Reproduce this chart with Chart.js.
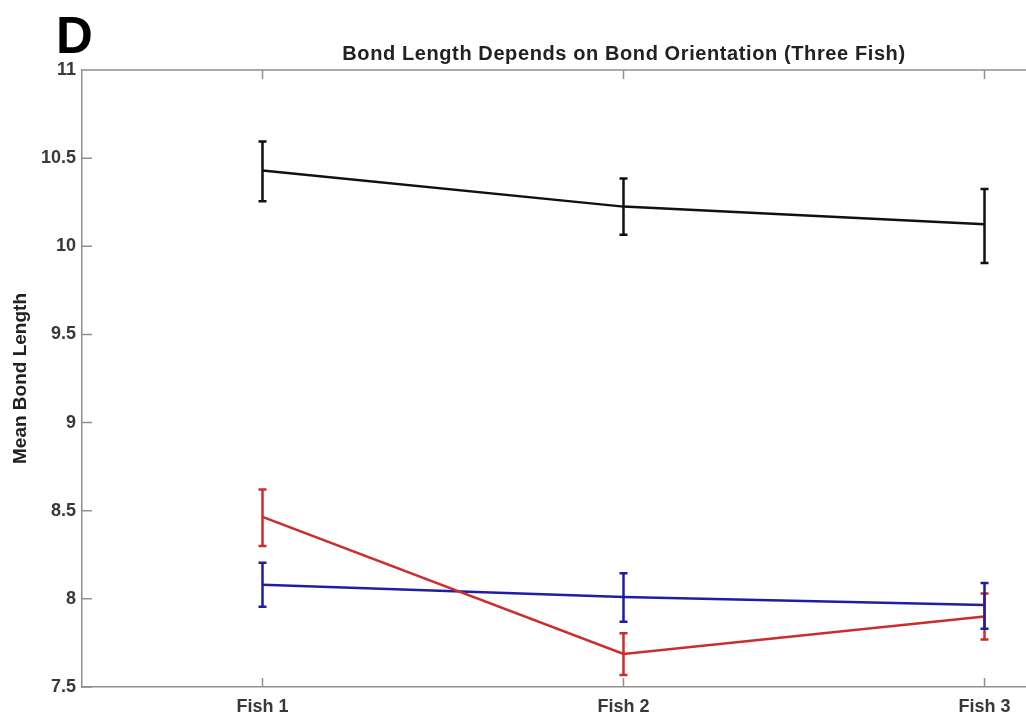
<!DOCTYPE html>
<html>
<head>
<meta charset="utf-8">
<script src="https://cdn.jsdelivr.net/npm/chart.js@4"></script>
<style>
  html, body { margin: 0; padding: 0; background: #fff; overflow: hidden; }
  #wrap { position: relative; width: 1026px; height: 721px; overflow: hidden; }
  #panel { position: absolute; left: 56px; top: 6px; font: bold 51px "Liberation Sans", Arial, sans-serif; color: #000; }
  #title { position: absolute; left: 314px; width: 620px; top: 42px; line-height: 24px; text-align: center;
           font: bold 20px "Liberation Sans", Arial, sans-serif; letter-spacing: 0.6px; color: #222; white-space: nowrap; }
</style>
</head>
<body>
<div id="wrap">
  <canvas id="myChart" width="1246" height="721"></canvas>
  <div id="panel">D</div>
  <div id="title">Bond Length Depends on Bond Orientation (Three Fish)</div>
</div>
<script>
// values
const fish = ['Fish 1', 'Fish 2', 'Fish 3'];

const blackMean = [10.43, 10.225, 10.125];
const blackLow  = [10.255, 10.065, 9.905];
const blackHigh = [10.595, 10.385, 10.325];

const redMean = [8.465, 7.687, 7.9];
const redLow  = [8.3, 7.568, 7.77];
const redHigh = [8.62, 7.805, 8.03];

const blueMean = [8.08, 8.01, 7.965];
const blueLow  = [7.955, 7.87, 7.83];
const blueHigh = [8.205, 8.145, 8.09];

const yTicks = [7.5, 8, 8.5, 9, 9.5, 10, 10.5, 11];

const axisGrey = '#909090';
const font = "'Liberation Sans', Arial, sans-serif";

// error bars with short caps
const errorBars = {
    id: 'errorBars',
    afterDatasetsDraw(chart) {
        const ctx = chart.ctx;
        const x = chart.scales.x, y = chart.scales.y;
        chart.data.datasets.forEach(ds => {
            ctx.save();
            ctx.strokeStyle = ds.borderColor;
            ctx.lineWidth = 2.5;
            ds.data.forEach((v, i) => {
                const px = x.getPixelForValue(i);
                const lo = y.getPixelForValue(ds.low[i]);
                const hi = y.getPixelForValue(ds.high[i]);
                ctx.beginPath();
                ctx.moveTo(px, lo); ctx.lineTo(px, hi);
                ctx.moveTo(px - 4, lo); ctx.lineTo(px + 4, lo);
                ctx.moveTo(px - 4, hi); ctx.lineTo(px + 4, hi);
                ctx.stroke();
            });
            ctx.restore();
        });
    }
};

// box top line and inward ticks, MATLAB style
const boxTicks = {
    id: 'boxTicks',
    afterDraw(chart) {
        const ctx = chart.ctx;
        const a = chart.chartArea;
        const x = chart.scales.x, y = chart.scales.y;
        ctx.save();
        ctx.strokeStyle = axisGrey;
        ctx.lineWidth = 1.5;
        ctx.beginPath();
        ctx.moveTo(a.left, a.top); ctx.lineTo(a.right, a.top);
        fish.forEach((f, i) => {
            const px = x.getPixelForValue(i);
            ctx.moveTo(px, a.bottom); ctx.lineTo(px, a.bottom - 9);
            ctx.moveTo(px, a.top); ctx.lineTo(px, a.top + 9);
        });
        yTicks.forEach(t => {
            const py = y.getPixelForValue(t);
            ctx.moveTo(a.left, py); ctx.lineTo(a.left + 10, py);
        });
        ctx.stroke();
        ctx.restore();
    }
};

const data = {
    labels: fish,
    datasets: [{
        label: 'black',
        data: blackMean, low: blackLow, high: blackHigh,
        borderColor: '#111111',
    }, {
        label: 'red',
        data: redMean, low: redLow, high: redHigh,
        borderColor: '#cc2c2c',
    }, {
        label: 'blue',
        data: blueMean, low: blueLow, high: blueHigh,
        borderColor: '#1e1ea2',
    }].map(d => Object.assign(d, { borderWidth: 2.5, pointRadius: 0, fill: false, tension: 0 }))
};

const config = {
    type: 'line',
    data: data,
    plugins: [errorBars, boxTicks],
    options: {
        responsive: false,
        animation: false,
        layout: { padding: { left: 0, right: 81, top: 70, bottom: 0 } },
        plugins: {
            legend: { display: false },
            tooltip: { enabled: false },
            title: { display: false }
        },
        scales: {
            x: {
                offset: true,
                afterFit(scale) { scale.height = 34; },
                grid: { display: false, drawTicks: false },
                border: { display: true, color: axisGrey, width: 1.5 },
                ticks: {
                    color: '#383838',
                    padding: 9,
                    maxRotation: 0,
                    font: { family: font, size: 18, weight: 'bold' }
                }
            },
            y: {
                min: 7.5,
                max: 11,
                afterFit(scale) { scale.width = 82; },
                afterBuildTicks(scale) { scale.ticks = yTicks.map(v => ({ value: v })); },
                grid: { display: false, drawTicks: false },
                border: { display: true, color: axisGrey, width: 1.5 },
                title: {
                    display: true,
                    text: 'Mean Bond Length',
                    color: '#222',
                    padding: { top: 9, bottom: 0 },
                    font: { family: font, size: 19, weight: 'bold' }
                },
                ticks: {
                    color: '#383838',
                    padding: 6,
                    callback: v => String(v),
                    font: { family: font, size: 18, weight: 'bold' }
                }
            }
        }
    }
};

const myChart = document.getElementById('myChart').getContext('2d');
const lineChart = new Chart(myChart, config);
</script>
</body>
</html>
